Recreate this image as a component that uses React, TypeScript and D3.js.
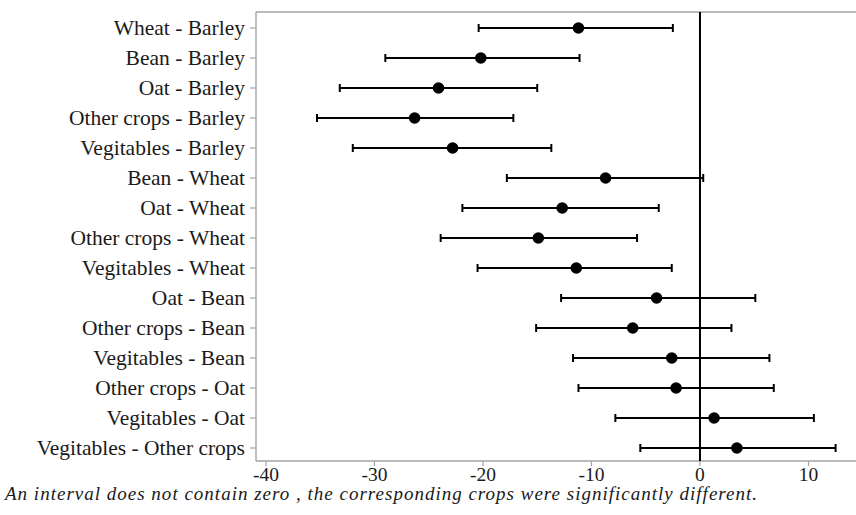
import * as d3 from "d3";

const comparisons = [
  "Wheat - Barley",
  "Bean - Barley",
  "Oat - Barley",
  "Other crops - Barley",
  "Vegitables - Barley",
  "Bean - Wheat",
  "Oat - Wheat",
  "Other crops - Wheat",
  "Vegitables - Wheat",
  "Oat - Bean",
  "Other crops - Bean",
  "Vegitables - Bean",
  "Other crops - Oat",
  "Vegitables - Oat",
  "Vegitables - Other crops",
];
const estimates = [-11.2, -20.2, -24.1, -26.3, -22.8, -8.7, -12.7, -14.9, -11.4, -4.0, -6.2, -2.6, -2.2, 1.3, 3.4];
const lowerBounds = [-20.4, -29.0, -33.2, -35.3, -32.0, -17.8, -21.9, -23.9, -20.5, -12.8, -15.1, -11.7, -11.2, -7.8, -5.5];
const upperBounds = [-2.5, -11.1, -15.0, -17.2, -13.7, 0.3, -3.8, -5.8, -2.6, 5.1, 2.9, 6.4, 6.8, 10.5, 12.5];
const xTicks = [-40, -30, -20, -10, 0, 10];
const caption =
  "An interval does not contain zero , the corresponding crops were significantly different.";

const W = 856;
const H = 515;
const plot = { left: 256, top: 12, right: 856, bottom: 461 };
const serif = "'Liberation Serif', 'Times New Roman', serif";

export default function App() {
  const x = d3.scaleLinear().domain([-40.92, 14.38]).range([plot.left, plot.right]);
  const y = d3.scalePoint<string>().domain(comparisons).range([28, 448]);
  const axisColor = "#a3a3a3";

  return (
    <svg
      width={W}
      height={H}
      style={{ position: "absolute", left: 0, top: 0, background: "#fff", fontFamily: serif }}
    >
      {/* frame */}
      <line x1={plot.left} x2={plot.right} y1={plot.top} y2={plot.top} stroke={axisColor} strokeWidth={1.6} />
      <line x1={plot.left} x2={plot.left} y1={plot.top} y2={plot.bottom} stroke={axisColor} strokeWidth={1.4} />
      <line x1={plot.left} x2={plot.right} y1={plot.bottom} y2={plot.bottom} stroke={axisColor} strokeWidth={1.4} />

      {/* y axis ticks and labels */}
      {comparisons.map((c) => (
        <g key={c} transform={`translate(0,${y(c)})`}>
          <line x1={plot.left - 6} x2={plot.left} stroke={axisColor} strokeWidth={1.2} />
          <text x={245} dy="0.33em" textAnchor="end" fontSize={21.5} fill="#1a1a1a" style={{ fontFamily: serif }}>
            {c}
          </text>
        </g>
      ))}

      {/* x axis ticks and labels */}
      {xTicks.map((t) => (
        <g key={t} transform={`translate(${x(t)},0)`}>
          <line y1={plot.bottom} y2={plot.bottom + 5} stroke={axisColor} strokeWidth={1.2} />
          <text y={481} textAnchor="middle" fontSize={19.5} fill="#1a1a1a" style={{ fontFamily: serif }}>
            {t}
          </text>
        </g>
      ))}

      {/* zero reference line */}
      <line x1={x(0)} x2={x(0)} y1={plot.top} y2={plot.bottom} stroke="#000" strokeWidth={2} />

      {/* intervals */}
      {comparisons.map((c, i) => {
        const cy = y(c)!;
        return (
          <g key={c}>
            <line x1={x(lowerBounds[i])} x2={x(upperBounds[i])} y1={cy} y2={cy} stroke="#000" strokeWidth={2} />
            <line x1={x(lowerBounds[i])} x2={x(lowerBounds[i])} y1={cy - 4} y2={cy + 4} stroke="#000" strokeWidth={2} />
            <line x1={x(upperBounds[i])} x2={x(upperBounds[i])} y1={cy - 4} y2={cy + 4} stroke="#000" strokeWidth={2} />
            <circle cx={x(estimates[i])} cy={cy} r={5.8} fill="#000" />
          </g>
        );
      })}

      {/* footnote */}
      <text
        x={5}
        y={500}
        fontSize={19}
        fill="#1a1a1a"
        textLength={752}
        lengthAdjust="spacing"
        style={{ fontFamily: serif, fontStyle: "italic" }}
      >
        {caption}
      </text>
    </svg>
  );
}
